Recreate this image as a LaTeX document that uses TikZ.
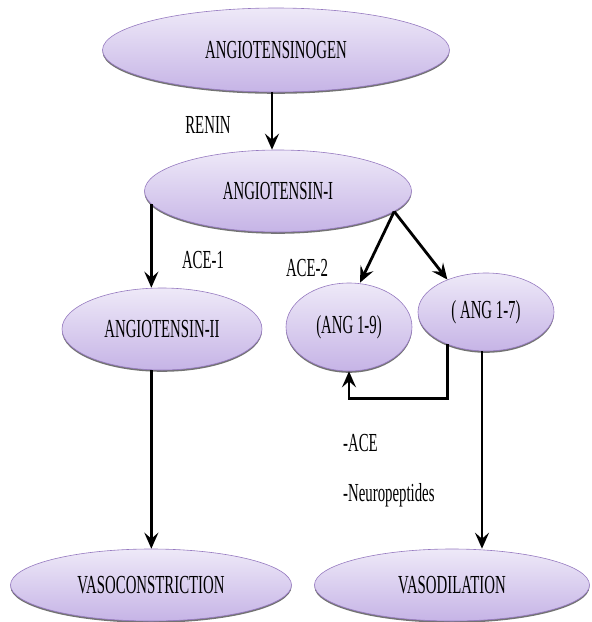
\documentclass[tikz,border=0pt]{standalone}
\usepackage{fontspec}
\setmainfont{Liberation Serif}[FakeStretch=0.57]
\usepackage{xcolor}
\usepackage{tikz}
\usetikzlibrary{shapes.geometric,shadows,arrows.meta}

\definecolor{ovaltop}{RGB}{238,233,248}
\definecolor{ovalbot}{RGB}{198,180,230}
\definecolor{ovalline}{RGB}{150,122,192}

\begin{document}
\begin{tikzpicture}[
  x=1pt, y=-1pt, font=\fontsize{26}{28}\selectfont,
  oval/.style={ellipse, draw=ovalline, line width=0.6pt, top color=ovaltop, bottom color=ovalbot, inner sep=0pt,
    drop shadow={shadow xshift=0pt, shadow yshift=-1.8pt, fill=black!55, opacity=1}},
  arr/.style={line width=2.8pt, -{Stealth[length=16pt,width=14pt,inset=6pt]}},
  lab/.style={inner sep=1pt}]
\useasboundingbox (0,0) rectangle (592,622);
\node[oval, minimum width=347pt, minimum height=84pt] (gen) at (276,50) {ANGIOTENSINOGEN};
\node[oval, minimum width=267pt, minimum height=82pt] (ang1) at (278,191) {ANGIOTENSIN-I};
\node[oval, minimum width=200pt, minimum height=82pt] (ang2) at (162,329) {ANGIOTENSIN-II};
\node[oval, minimum width=126pt, minimum height=88pt] (a19) at (349,327) {(ANG 1-9)};
\node[oval, minimum width=136pt, minimum height=78pt] (a17) at (486,312) {( ANG 1-7)};
\node[oval, minimum width=281pt, minimum height=72pt] (vc) at (151,585) {VASOCONSTRICTION};
\node[oval, minimum width=275pt, minimum height=72pt] (vd) at (452,585) {VASODILATION};
% enzyme labels
\node[lab] (renin) at (208,125) {RENIN};
\node[lab] (ace1) at (203,260) {ACE-1};
\node[lab] (ace2) at (307,268) {ACE-2};
\node[lab, anchor=west] (ace) at (342,443) {-ACE};
\node[lab, anchor=west] (neuro) at (342,495) {-Neuropeptides};
\draw[arr] ([xshift=-4pt]gen.south) -- ([xshift=-4pt]gen.south |- ang1.north);
\draw[arr] (ang1.186) -- (ang1.186 |- ang2.north);
\draw[arr] (ang1.350) -- ([xshift=11pt]a19.north);
\draw[arr] (ang1.350) -- (a17.140);
\draw[arr] (a17.220) -- ++(0,54) -| (a19.south);
\draw[arr] (ang1.186 |- ang2.south) -- (ang1.186 |- vc.north);
\draw[arr, line width=2.2pt] ([xshift=-4pt]a17.south) -- ([xshift=-4pt]a17.south |- vd.north);
\end{tikzpicture}
\end{document}
